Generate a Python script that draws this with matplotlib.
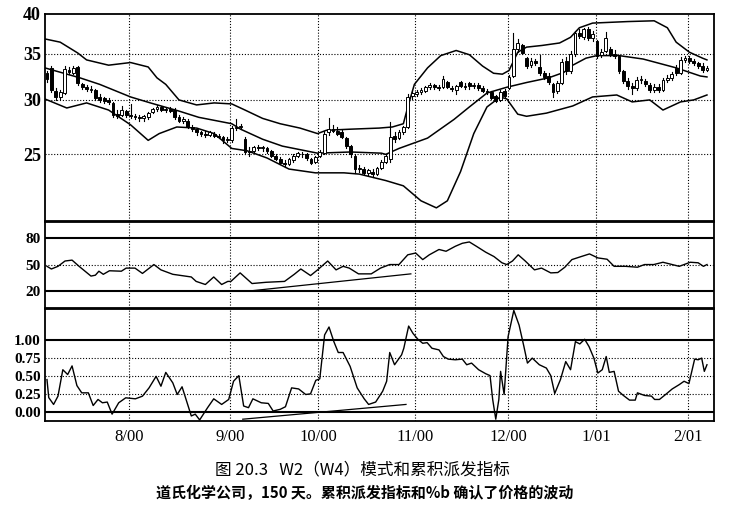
import matplotlib
matplotlib.use("Agg")
import matplotlib.pyplot as plt
from matplotlib.patches import Rectangle
from matplotlib.ticker import FixedLocator, NullLocator, FixedFormatter
from matplotlib.font_manager import FontProperties

# ---------------- data ----------------
opens = [32.8,33.4,30.9,30.3,30.7,33.2,32.8,33.5,31.6,31.3,31.0,31.0,30.3,30.2,30.0,29.7,28.6,28.5,28.9,28.5,
         28.4,28.3,28.2,28.3,28.8,29.1,29.3,29.0,29.1,29.0,28.3,28.0,28.0,27.4,27.2,26.9,26.8,26.7,26.8,26.6,
         26.5,26.2,26.2,27.3,27.4,26.3,25.3,25.3,25.6,25.5,25.5,25.3,24.9,24.6,24.3,24.2,24.5,24.9,25.0,25.0,
         24.6,24.4,24.9,25.1,26.9,27.2,27.0,26.9,26.4,25.7,24.9,23.8,23.8,23.5,23.6,23.4,23.9,24.4,24.6,26.6,
         26.4,26.9,27.4,30.4,30.6,30.8,30.9,31.3,31.5,31.3,31.3,31.9,31.2,31.0,31.9,31.4,31.8,31.4,31.5,31.2,
         30.9,30.8,30.4,30.0,30.9,31.2,32.5,35.6,36.0,34.5,33.7,34.2,33.5,32.8,32.5,31.6,30.9,31.8,34.2,33.0,
         35.0,37.5,37.0,38.0,36.9,36.5,34.9,35.3,35.6,35.0,34.8,33.0,32.0,31.4,31.2,32.1,32.0,31.5,31.0,31.3,
         31.0,32.1,32.3,33.4,32.8,34.3,34.5,34.2,33.9,33.6,33.2]
highs = [33.0,33.6,31.2,31.0,33.6,33.5,33.6,33.6,31.8,31.5,31.4,31.1,30.6,30.3,30.2,29.8,29.0,29.4,29.0,29.6,
         28.6,28.5,28.5,28.8,29.2,29.5,29.4,29.2,29.3,29.2,28.5,28.3,28.1,27.6,27.3,27.0,27.0,27.0,26.9,26.8,
         26.6,26.5,27.5,28.1,27.7,26.5,25.6,25.7,25.8,25.7,25.6,25.4,25.0,24.8,24.5,24.7,25.0,25.2,25.2,25.1,
         24.7,24.9,25.4,27.0,28.2,27.6,27.4,27.1,26.5,25.8,25.0,24.1,24.0,23.8,23.8,24.0,24.5,25.0,27.9,26.9,
         27.1,27.5,30.6,30.9,31.0,31.2,31.4,31.7,31.6,31.5,32.5,32.0,31.4,31.5,32.0,31.8,31.9,31.8,31.7,31.4,
         31.1,30.9,30.5,31.0,31.1,32.6,37.5,36.8,36.2,34.6,34.5,34.4,34.9,33.0,32.8,31.7,32.0,34.4,34.6,35.3,
         37.8,38.0,38.2,38.3,37.8,36.7,35.6,37.6,35.8,35.4,34.9,33.2,32.3,31.8,32.4,32.5,32.2,31.7,31.6,31.6,
         32.3,32.6,32.9,33.7,34.6,34.8,34.7,34.4,34.1,33.9,33.6]
lows = [31.9,30.8,30.0,30.1,30.6,32.7,32.7,31.5,31.1,30.9,30.8,30.0,29.8,29.7,29.6,28.3,28.2,28.4,28.3,28.2,
        28.1,28.0,28.0,28.1,28.7,28.9,28.9,28.8,28.8,28.1,27.9,27.8,27.3,27.0,26.7,26.6,26.5,26.6,26.5,26.4,
        26.0,26.1,26.1,27.1,27.2,25.0,24.9,25.2,25.4,25.3,25.1,24.8,24.5,24.2,24.0,24.1,24.4,24.8,24.8,24.5,
        24.2,24.3,24.8,25.0,26.7,26.9,26.7,26.4,25.5,24.8,23.5,23.6,23.4,23.3,23.2,23.3,23.8,24.3,24.4,26.1,
        26.3,26.8,27.3,30.1,30.4,30.6,30.8,31.1,31.1,31.0,31.2,31.2,30.9,30.6,31.3,31.1,31.1,31.2,31.0,30.8,
        30.6,30.1,29.8,29.9,30.3,31.1,32.4,35.2,35.0,33.4,33.5,33.7,32.6,32.2,31.6,30.3,30.7,31.6,32.7,32.8,
        34.8,36.9,36.8,36.7,36.6,34.5,34.6,35.2,34.8,34.5,32.8,31.8,31.1,30.6,31.0,31.8,31.4,30.8,30.8,30.8,
        30.9,31.9,32.1,32.6,32.7,34.1,34.0,33.7,33.4,32.9,33.0]
closes = [32.2,31.0,30.3,30.8,33.3,32.9,33.4,31.8,31.3,31.1,31.1,30.2,30.0,29.9,29.8,28.5,28.4,29.0,28.5,28.4,
          28.3,28.2,28.4,28.7,29.1,29.3,29.0,29.1,28.9,28.3,28.0,28.1,27.4,27.2,26.9,26.8,26.7,26.9,26.6,26.5,
          26.2,26.3,27.3,27.4,27.5,25.2,25.2,25.6,25.5,25.6,25.3,24.9,24.6,24.3,24.2,24.6,24.9,25.1,25.0,24.7,
          24.3,24.8,25.2,26.8,27.2,27.0,26.8,26.5,25.7,25.0,23.8,23.9,23.5,23.7,23.4,23.9,24.4,24.9,26.5,26.3,
          26.9,27.4,30.3,30.7,30.8,31.0,31.3,31.5,31.3,31.2,32.2,31.3,31.1,31.4,31.4,31.3,31.4,31.5,31.2,30.9,
          30.8,30.2,29.9,30.8,30.4,32.4,35.6,36.3,35.1,33.6,34.2,33.9,32.8,32.4,31.9,30.8,31.8,34.1,33.0,35.0,
          37.5,37.2,38.0,36.9,37.4,34.8,35.2,36.9,35.0,34.8,33.0,32.0,31.4,31.2,32.1,32.2,31.6,31.0,31.3,31.0,
          32.1,32.3,32.7,32.8,34.3,34.5,34.2,33.9,33.6,33.2,33.4]

upper_idx = [-0.5,3,7,9,14,19,23,25,27,30,34,38,42,45,49,53,57.5,61.5,63.5,69,75.5,78.5,81,82,83.5,86.5,89.5,
             93,96,99,101.5,103.5,105,107,109,112.5,116.5,119,121,124,132,138,141,143,146,149,150]
upper_val = [36.8,36.4,35.1,34.3,33.7,34.0,33.5,32.3,31.6,30.0,29.5,29.7,29.6,29.0,28.2,27.7,27.3,26.8,27.1,27.2,
             27.3,27.4,27.7,29.3,31.6,33.4,34.8,35.4,34.9,33.6,32.8,32.7,33.1,35.2,35.8,36.0,36.3,37.0,38.2,38.8,
             39.0,39.1,38.2,36.4,35.2,34.5,34.3]
middle_idx = [-0.5,7.5,12,19,23.5,30,34.5,42,44,49,53.5,61.5,69,76,77,80,86.5,92.5,96,100,104.5,109,114,117.5,
              119.5,122.5,125,130,135.5,143,148.5,150]
middle_val = [33.4,32.3,31.6,30.3,29.7,28.9,28.3,27.7,27.2,26.3,25.7,25.1,25.2,25.1,25.0,25.5,26.4,28.1,29.3,30.7,
              31.3,31.8,32.3,32.9,33.7,34.5,34.8,34.8,34.4,33.4,32.5,32.4]
lower_idx = [-0.5,4.5,9,14,19,23,25.5,29.5,34,38,42,45.5,50,55,61,67.5,71,77,81,85,88.5,91,94,97,100,103,104.5,
             107,109,113.5,119.5,124,129.5,133,137,140,144,147,150]
lower_val = [30.1,29.2,29.7,29.0,27.6,26.2,26.8,27.4,27.3,26.8,25.5,25.3,24.7,23.8,23.5,23.5,23.4,22.9,22.5,21.4,
             20.9,21.4,23.6,26.8,29.3,30.3,30.1,28.6,28.4,28.7,29.4,30.3,30.5,29.8,30.0,29.0,29.8,30.0,30.5]

ad_idx = [0,1,2.5,4.1,5.7,7.3,10,11,11.8,12.8,14.2,16.9,18,20,21.7,24.3,25.9,28.6,32.8,33.9,36,37.9,39.7,41.1,
          41.8,43.9,46.6,49.8,54,56.2,57.7,59.9,61.5,63.8,65.7,67.3,68.7,70.8,73.7,75.8,77.9,80,82,83.8,85.4,86.9,
          89.1,90.7,92.8,94.4,96,97.6,99.7,101.6,103.4,104.5,105.8,107.1,108.7,110.8,112.4,114.5,116.1,117.7,
          119.3,121.4,123.3,125.2,127.3,128.9,131.5,134.2,135.8,137.9,140,142.1,143.7,146.2,148,149.2,150]
ad_val = [48,45,48,54,55,48,37,38,42.5,39,43,42.5,46,46,40,50,44,39,36,31,27.5,36,27.5,31,31,40.6,28.6,30,31,39,
          45,37.6,44,54,44,48,46,39.5,39.5,46,50,50,61,63,55.6,61,67,65,70.6,74,75.5,70.6,64,59,52,50,54,61,54,44,
          46,40.6,41,47,55.6,59,62,57.5,56,48,48,47,50,50,52.6,50,48,52.6,52,48,50]

pb_idx = [0,0.4,1.5,2.5,3.6,4.7,5.7,6.8,7.9,9.4,10.5,11.6,12.6,13.7,14.8,16.3,17.9,20.1,21.7,23.2,24.8,25.9,27,
          28.6,29.6,30.7,32.8,33.7,34.7,36.5,37.9,39.7,41.3,42.4,43.6,44.7,45.8,46.8,48.7,50.3,51.4,53,54.2,55.6,
          57.2,58.8,59.9,61.1,62,63.1,64.1,65.2,66.2,67.3,68.9,70.5,72.1,73.1,74.7,76.3,77.2,77.9,79,80.6,81.1,
          82.2,83.2,84.3,85.4,86.4,87.5,89.1,90.1,91.2,92.8,94.4,95.4,96.5,98.1,99.7,100.7,101.3,102,102.7,103.1,
          103.9,104.8,106.1,107.3,108.4,109.2,110.3,111.9,113.5,114.5,115.4,116.7,117.9,119,120.1,121.1,122.2,
          123.2,124.3,125.2,126.2,127.1,127.8,128.9,129.9,131,132.4,133.7,134.2,135.8,137.4,138.1,139.2,140.6,
          142.1,143.7,144.8,145.9,147.2,148,148.8,149.4,150]
pb_val = [0.45,0.20,0.105,0.22,0.587,0.52,0.64,0.367,0.266,0.266,0.09,0.174,0.128,0.138,-0.03,0.128,0.197,0.183,
          0.22,0.335,0.495,0.358,0.55,0.404,0.243,0.35,-0.055,-0.03,-0.11,0.06,0.183,0.105,0.174,0.427,0.505,
          0.083,0.06,0.183,0.128,0.119,0.014,0.037,0.073,0.335,0.32,0.243,0.252,0.44,0.46,1.07,1.18,0.977,0.826,
          0.826,0.633,0.335,0.183,0.105,0.138,0.289,0.427,0.826,0.656,0.794,0.885,1.193,1.09,1.01,0.954,0.963,
          0.885,0.862,0.77,0.734,0.725,0.734,0.656,0.679,0.587,0.532,0.505,0.174,-0.10,0.174,0.564,0.243,1.046,
          1.41,1.206,0.908,0.679,0.748,0.656,0.61,0.505,0.257,0.45,0.70,0.587,0.977,0.945,1.01,0.908,0.748,0.541,
          0.587,0.77,0.55,0.564,0.289,0.23,0.165,0.165,0.266,0.23,0.22,0.174,0.174,0.243,0.32,0.38,0.427,0.394,
          0.734,0.725,0.748,0.564,0.656]

ad_trend_idx = [46.6, 82.7]
ad_trend_val = [20.5, 39.5]
pb_trend_idx = [44.5, 81.6]
pb_trend_val = [-0.10, 0.105]

month_pos = [18.6, 41.6, 61.6, 83.6, 104.8, 124.8, 145.7]
month_labels = ["8/00", "9/00", "10/00", "11/00", "12/00", "1/01", "2/01"]
price_ticks = [25, 30, 35, 40]
ad_ticks = [20, 50, 80]
pb_ticks = [0.0, 0.25, 0.5, 0.75, 1.0]
pb_labels = ["0.00", "0.25", "0.50", "0.75", "1.00"]

title1 = "图 20.3   W2（W4）模式和累积派发指标"
title2 = "道氏化学公司，150 天。累积派发指标和%b 确认了价格的波动"

# ---------------- figure ----------------
fig = plt.figure(figsize=(7.30, 5.09), dpi=100)
W, H = 730, 509
def ax_rect(x0, y0, x1, y1):
    return [x0 / W, 1 - y1 / H, (x1 - x0) / W, (y1 - y0) / H]

ax1 = fig.add_axes(ax_rect(45, 14, 714, 221))
ax2 = fig.add_axes(ax_rect(45, 222, 714, 308))
ax3 = fig.add_axes(ax_rect(45, 309, 714, 421))

XL = (-0.45, 151.6)
dot = dict(color="black", linestyle=(0, (1, 1.6)), linewidth=0.8)

for ax in (ax1, ax2, ax3):
    ax.set_xlim(*XL)
    for s in ax.spines.values():
        s.set_linewidth(1.3)
    ax.xaxis.set_major_locator(FixedLocator(month_pos))
    ax.tick_params(axis="both", length=0, pad=3)
    for p in month_pos:
        ax.axvline(p, zorder=0, **dot)

# --- price panel
ax1.set_yscale("log")
ax1.set_ylim(20, 40)
ax1.yaxis.set_major_locator(FixedLocator(price_ticks))
ax1.yaxis.set_major_formatter(FixedFormatter([str(t) for t in price_ticks]))
ax1.yaxis.set_minor_locator(NullLocator())
ax1.set_xticklabels([])
for t in price_ticks[:-1]:
    ax1.axhline(t, zorder=0, **dot)
for lab in ax1.get_yticklabels():
    lab.set_fontproperties(FontProperties(family="Liberation Serif", weight="bold", size=13))

ax1.plot(upper_idx, upper_val, color="black", lw=1.1, zorder=2)
ax1.plot(middle_idx, middle_val, color="black", lw=1.1, zorder=2)
ax1.plot(lower_idx, lower_val, color="black", lw=1.1, zorder=2)

bw = 0.62
for i, (o, h, l, c) in enumerate(zip(opens, highs, lows, closes)):
    ax1.plot([i, i], [l, h], color="black", lw=0.8, zorder=3)
    lo, hi = min(o, c), max(o, c)
    fc = "white" if c >= o else "black"
    ax1.add_patch(Rectangle((i - bw / 2, lo), bw, max(hi - lo, 0.03), facecolor=fc,
                            edgecolor="black", lw=0.7, zorder=4))

# --- accumulation/distribution panel
ax2.set_ylim(1, 98)
ax2.yaxis.set_major_locator(FixedLocator(ad_ticks))
ax2.yaxis.set_major_formatter(FixedFormatter([str(t) for t in ad_ticks]))
ax2.set_xticklabels([])
ax2.axhline(80, color="black", lw=1.5, zorder=1)
ax2.axhline(20, color="black", lw=1.5, zorder=1)
ax2.axhline(50, zorder=0, **dot)
ax2.plot(ad_idx, ad_val, color="black", lw=1.0, zorder=3)
ax2.plot(ad_trend_idx, ad_trend_val, color="black", lw=0.9, zorder=3)

# --- %b panel
ax3.set_ylim(-0.125, 1.43)
ax3.yaxis.set_major_locator(FixedLocator(pb_ticks))
ax3.yaxis.set_major_formatter(FixedFormatter(pb_labels))
ax3.set_xticklabels(month_labels)
ax3.axhline(1.0, color="black", lw=1.5, zorder=1)
ax3.axhline(0.0, color="black", lw=1.5, zorder=1)
for t in (0.25, 0.5, 0.75):
    ax3.axhline(t, zorder=0, **dot)
ax3.plot(pb_idx, pb_val, color="black", lw=1.0, zorder=3)
ax3.plot(pb_trend_idx, pb_trend_val, color="black", lw=0.9, zorder=3)
ax3.tick_params(axis="x", pad=6)

for ax in (ax2, ax3):
    for lab in ax.get_yticklabels():
        lab.set_fontproperties(FontProperties(family="Liberation Serif", weight="bold", size=11))
for lab in ax3.get_xticklabels():
    lab.set_fontproperties(FontProperties(family="Liberation Serif", size=12))

fig.text(362 / W, 1 - 470 / H, title1, ha="center", va="center", fontsize=12,
         family=["Noto Sans CJK SC", "DejaVu Sans"])
fig.text(365 / W, 1 - 493 / H, title2, ha="center", va="center", fontsize=10.8, weight="bold",
         family=["Noto Sans CJK SC", "DejaVu Sans"])

fig.savefig("out.png", dpi=100)
